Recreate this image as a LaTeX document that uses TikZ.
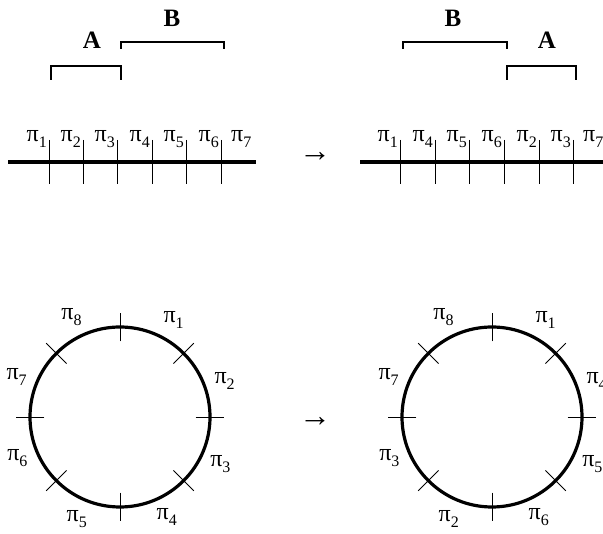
\documentclass[tikz,border=0pt]{standalone}
\usepackage{fontspec}
\setmainfont{Liberation Serif}
\usetikzlibrary{positioning,calc}
\newcommand{\pii}[1]{π\raisebox{-6pt}{\fontsize{16}{16}\selectfont #1}}

\begin{document}
\begin{tikzpicture}[x=1pt, y=-1pt,
    axis/.style={line width=3.2pt},
    tick/.style={line width=0.9pt},
    brace/.style={line width=2pt},
    ring/.style={circle, draw, line width=3.2pt, minimum size=180pt, outer sep=0pt, inner sep=0pt},
    lbl/.style={font=\fontsize{24}{26}\selectfont, inner sep=0pt},
    grp/.style={font=\fontsize{25}{27}\selectfont\bfseries, inner sep=0pt},
    arr/.style={font=\fontsize{32}{34}\selectfont, inner sep=0pt}
  ]
  \useasboundingbox (0,0) rectangle (603,534);

  % linear order, before
  \coordinate (la) at (8,162);
  \coordinate (lb) at (256,162);
  \draw[axis] (la) -- (lb);
  \foreach \i/\x/\t in {1/49/1,2/83/2,3/117/3,4/152/4,5/186/5,6/221/6} {
    \coordinate (lt\i) at (\x,162);
    \draw[tick] ($(lt\i)+(0,-22)$) -- ($(lt\i)+(0,22)$);
    \node[lbl, anchor=base east] (lp\i) at ($(lt\i)+(-2,-20)$) {\pii{\t}};
  }
  \node[lbl, anchor=base west] (lp7) at ($(lt6)+(10,-20)$) {\pii{7}};

  \coordinate (la1) at (51,80);
  \coordinate (la2) at (121,80);
  \coordinate (lb1) at (121,49);
  \coordinate (lb2) at (224,49);
  \draw[brace] (la1) |- ($(la2)+(0,-14)$) -- (la2);
  \draw[brace] (lb1) |- ($(lb2)+(0,-7)$) -- (lb2);
  \node[grp] (lA) at (92,40) {A};
  \node[grp] (lB) at (172,18) {B};

  % linear order, after
  \coordinate (ra) at (360,162);
  \coordinate (rb) at (603,162);
  \draw[axis] (ra) -- (rb);
  \foreach \i/\x/\t in {1/400/1,2/435/4,3/469/5,4/504/6,5/539/2,6/573/3} {
    \coordinate (rt\i) at (\x,162);
    \draw[tick] ($(rt\i)+(0,-22)$) -- ($(rt\i)+(0,22)$);
    \node[lbl, anchor=base east] (rp\i) at ($(rt\i)+(-2,-20)$) {\pii{\t}};
  }
  \node[lbl, anchor=base west] (rp7) at ($(rt6)+(10,-20)$) {\pii{7}};

  \coordinate (rb1) at (403,49);
  \coordinate (rb2) at (507,49);
  \coordinate (ra1) at (507,80);
  \coordinate (ra2) at (576,80);
  \draw[brace] (rb1) |- ($(rb2)+(0,-7)$) -- (rb2);
  \draw[brace] (ra1) |- ($(ra2)+(0,-14)$) -- (ra2);
  \node[grp] (rB) at (453,18) {B};
  \node[grp] (rA) at (547,40) {A};

  \node[arr] (ar1) at (315,157) {→};

  % circular order
  \node[ring] (cl) at (120,417) {};
  \node[ring] (cr) at (492,417) {};
  \foreach \a in {0,45,...,315} {
    \draw[tick] ($(cl.center)!0.84!(cl.\a)$) -- ($(cl.center)!1.16!(cl.\a)$);
    \draw[tick] ($(cr.center)!0.84!(cr.\a)$) -- ($(cr.center)!1.16!(cr.\a)$);
  }
  \foreach \a/\t in {61/1,19/2,-25/3,-65/4,-113/5,-158/6,159/7,116/8}
    \node[lbl] (cl\t) at ($(cl.center)!1.23!(cl.\a)$) {\pii{\t}};
  \foreach \a/\t in {61/1,19/4,-25/5,-65/6,-113/2,-158/3,159/7,116/8}
    \node[lbl] (cr\t) at ($(cr.center)!1.23!(cr.\a)$) {\pii{\t}};

  \node[arr] (ar2) at (315,422) {→};
\end{tikzpicture}
\end{document}
